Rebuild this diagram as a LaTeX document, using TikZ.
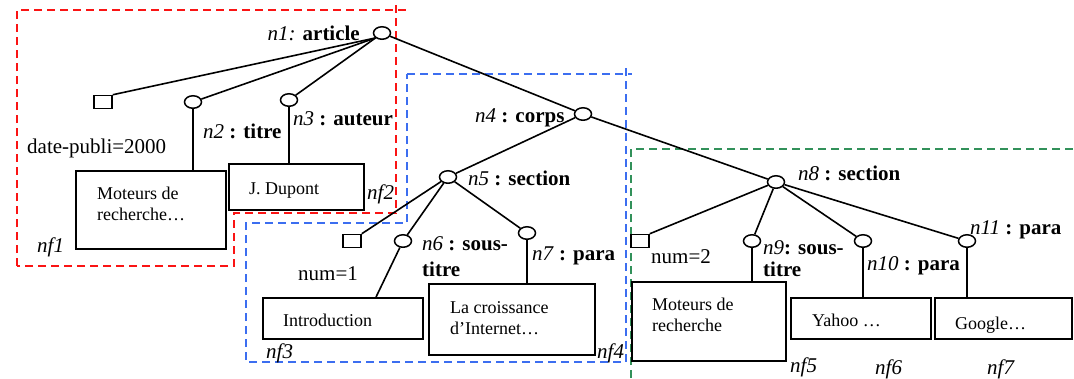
\documentclass[tikz,border=0pt]{standalone}
\usepackage{fontspec}
\setmainfont{Liberation Serif}
\usetikzlibrary{shapes.geometric,calc}
\definecolor{rbox}{RGB}{250,20,20}
\definecolor{bbox}{RGB}{60,110,240}
\definecolor{gbox}{RGB}{50,145,90}
\tikzset{
  x=1pt,y=-1pt,
  elem/.style={draw,ellipse,line width=1.5pt,minimum width=17pt,minimum height=12.5pt,inner sep=0pt},
  attr/.style={draw,rectangle,line width=1.5pt,minimum width=18pt,minimum height=13pt,inner sep=0pt},
  leaf/.style={draw,rectangle,line width=1.8pt,inner sep=0pt},
  edge/.style={line width=1.6pt},
  lbl/.style={anchor=base west,inner sep=0pt,font=\fontsize{21}{24}\selectfont},
  txt/.style={anchor=base west,inner sep=0pt,font=\fontsize{18}{21}\selectfont},
  zone/.style={line width=1.6pt,dash pattern=on 8pt off 5pt},
}
\begin{document}
\begin{tikzpicture}
\useasboundingbox (0,0) rectangle (1074,378);
% dashed zones
\draw[zone,rbox] (17,266) -- (17,10) -- (407,10);
\draw[zone,rbox] (396,5) -- (396,213) -- (234,213) -- (234,266) -- (17,266);
\draw[zone,bbox] (407,74) -- (632,74);
\draw[zone,bbox] (626,68) -- (626,362) -- (246,362) -- (246,223) -- (407,223) -- (407,74);
\draw[zone,gbox] (631,378) -- (631,149) -- (1074,149);
% element / attribute nodes
\node[elem] (n1) at (382,33) {};
\node[attr] (s1) at (103,102) {};
\node[elem] (n2) at (193,102) {};
\node[elem] (n3) at (289,100) {};
\node[elem] (n4) at (583,114) {};
\node[elem] (n5) at (448,177) {};
\node[attr] (s2) at (352,241) {};
\node[elem] (n6) at (403,241) {};
\node[elem] (n7) at (527,233) {};
\node[elem] (n8) at (776,182) {};
\node[attr] (s3) at (640,241) {};
\node[elem] (n9) at (752,241) {};
\node[elem] (n10) at (863,241) {};
\node[elem] (n11) at (967,241) {};
% leaf boxes
\node[leaf,minimum width=150pt,minimum height=78pt] (nf1) at (151,210) {};
\node[leaf,minimum width=135pt,minimum height=46pt] (nf2) at (296.5,187) {};
\node[leaf,minimum width=160pt,minimum height=41pt] (nf3) at (343,318.5) {};
\node[leaf,minimum width=166pt,minimum height=71pt] (nf4) at (512,319.5) {};
\node[leaf,minimum width=154pt,minimum height=79pt] (nf5) at (709,321.5) {};
\node[leaf,minimum width=140pt,minimum height=41pt] (nf6) at (861,318.5) {};
\node[leaf,minimum width=137pt,minimum height=41pt] (nf7) at (1003.5,318.5) {};
% edges
\draw[edge] (n1.south west) -- (s1.north east);
\draw[edge] (n1.south west) -- (n2);
\draw[edge] (n1.south west) -- (n3);
\draw[edge] (n1) -- (n4);
\draw[edge] (n2) -- (n2 |- nf1.north);
\draw[edge] (n3) -- (n3 |- nf2.north);
\draw[edge] (n4) -- (n5);
\draw[edge] (n4) -- (n8);
\draw[edge] (n5) -- (s2.north east);
\draw[edge] (n5) -- (n6);
\draw[edge] (n6) -- ($(nf3.north)+(33,0)$);
\draw[edge] (n5) -- (n7);
\draw[edge] (n7) -- (n7 |- nf4.north);
\draw[edge] (n8) -- (s3.north east);
\draw[edge] (n8) -- (n9);
\draw[edge] (n8) -- (n10);
\draw[edge] (n8) -- (n11);
\draw[edge] (n9) -- (n9 |- nf5.north);
\draw[edge] (n10) -- (n10 |- nf6.north);
\draw[edge] (n11) -- (n11 |- nf7.north);
% labels
\node[lbl,anchor=base east] (l1) at (360,40) {\textit{n1:} \textbf{article}};
\node[lbl] (la1) at (27,153) {date-publi=2000};
\node[lbl] (l2) at (203,138) {\textit{n2} \textbf{: titre}};
\node[lbl] (l3) at (293,125) {\textit{n3} \textbf{: auteur}};
\node[lbl] (l4) at (475,122) {\textit{n4} \textbf{: corps}};
\node[lbl] (l5) at (468,185) {\textit{n5} \textbf{: section}};
\node[lbl] (l6a) at (422,250) {\textit{n6} \textbf{: sous-}};
\node[lbl] (l6b) at (422,276) {\textbf{titre}};
\node[lbl] (l7) at (532,260) {\textit{n7} \textbf{: para}};
\node[lbl] (la2) at (298,280) {num=1};
\node[lbl] (l8) at (798,180) {\textit{n8} \textbf{: section}};
\node[lbl] (la3) at (651,263) {num=2};
\node[lbl] (l9a) at (763,254) {\textit{n9}\textbf{: sous-}};
\node[lbl] (l9b) at (763,276) {\textbf{titre}};
\node[lbl] (l10) at (867,270) {\textit{n10} \textbf{: para}};
\node[lbl] (l11) at (970,234) {\textit{n11} \textbf{: para}};
% leaf names
\node[lbl] (f1) at (37,252) {\textit{nf1}};
\node[lbl] (f2) at (367,199) {\textit{nf2}};
\node[lbl] (f3) at (266,358) {\textit{nf3}};
\node[lbl] (f4) at (597,358) {\textit{nf4}};
\node[lbl] (f5) at (790,372) {\textit{nf5}};
\node[lbl] (f6) at (875,374) {\textit{nf6}};
\node[lbl] (f7) at (987,374) {\textit{nf7}};
% leaf texts
\node[txt] (t1a) at (97,199) {Moteurs de};
\node[txt] (t1b) at (97,220) {recherche…};
\node[txt] (t2) at (249,194) {J. Dupont};
\node[txt] (t3) at (283,326) {Introduction};
\node[txt] (t4a) at (450,313) {La croissance};
\node[txt] (t4b) at (450,334) {d’Internet…};
\node[txt] (t5a) at (652,310) {Moteurs de};
\node[txt] (t5b) at (652,331) {recherche};
\node[txt] (t6) at (812,326) {Yahoo …};
\node[txt] (t7) at (955,329) {Google…};
\end{tikzpicture}
\end{document}
